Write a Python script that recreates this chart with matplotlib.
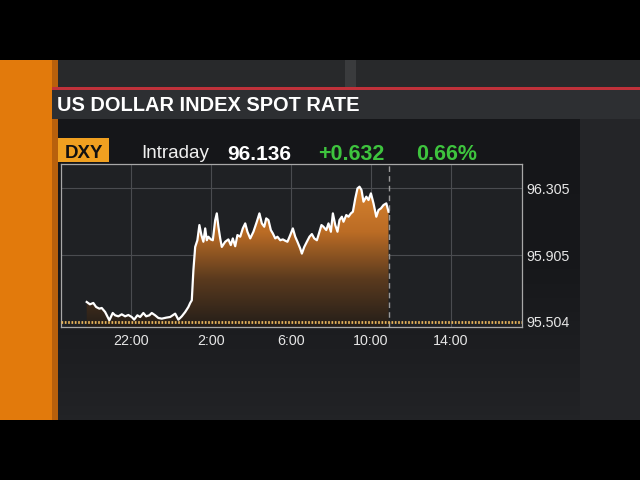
### DXY intraday chart, Bloomberg TV style ###
import numpy as np
import matplotlib
matplotlib.use("Agg")
import matplotlib.pyplot as plt
from matplotlib.patches import Rectangle
from matplotlib.colors import LinearSegmentedColormap

plt.rcParams['font.family'] = ['Liberation Sans', 'DejaVu Sans']

### data (hours since midnight of day 1, index level) ###
hours = [19.80, 19.96, 20.13, 20.27, 20.43, 20.55, 20.72, 20.93, 21.10, 21.22,
         21.38, 21.55, 21.72, 21.88, 22.05, 22.17, 22.33, 22.47, 22.63, 22.77,
         22.93, 23.05, 23.22, 23.38, 23.55, 23.77, 23.97, 24.22, 24.38, 24.55,
         24.72, 24.88, 24.97, 25.05, 25.13, 25.22, 25.33, 25.43, 25.53, 25.63,
         25.72, 25.80, 25.88, 26.00, 26.10, 26.22, 26.30, 26.38, 26.47, 26.55,
         26.72, 26.88, 27.00, 27.10, 27.22, 27.33, 27.47, 27.60, 27.72, 27.83,
         27.97, 28.13, 28.30, 28.43, 28.55, 28.67, 28.77, 28.88, 29.00, 29.10,
         29.22, 29.33, 29.47, 29.60, 29.72, 29.83, 29.97, 30.10, 30.22, 30.33,
         30.47, 30.55, 30.67, 30.80, 30.93, 31.05, 31.17, 31.30, 31.43, 31.53,
         31.63, 31.77, 31.88, 32.00, 32.10, 32.22, 32.33, 32.43, 32.55, 32.63,
         32.77, 32.88, 33.00, 33.10, 33.22, 33.33, 33.43, 33.53, 33.63, 33.77,
         33.88, 34.00, 34.13, 34.27, 34.38, 34.50, 34.63, 34.77, 34.88]
price = [95.624, 95.610, 95.618, 95.594, 95.584, 95.588, 95.564, 95.514, 95.558, 95.544,
         95.538, 95.550, 95.538, 95.546, 95.534, 95.518, 95.544, 95.534, 95.558, 95.538,
         95.544, 95.558, 95.544, 95.528, 95.524, 95.530, 95.534, 95.554, 95.518, 95.538,
         95.564, 95.594, 95.618, 95.634, 95.814, 95.954, 95.994, 96.085, 96.025, 95.985,
         96.065, 95.994, 96.015, 95.999, 95.994, 96.115, 96.155, 96.075, 96.005, 95.954,
         95.985, 95.999, 95.965, 96.005, 95.958, 96.025, 96.015, 96.065, 96.095, 96.045,
         96.005, 96.045, 96.105, 96.155, 96.095, 96.075, 96.125, 96.115, 96.055, 96.035,
         96.005, 96.015, 95.994, 95.999, 95.991, 95.985, 96.025, 96.065, 96.015, 95.985,
         95.944, 95.914, 95.954, 95.985, 96.015, 96.031, 96.005, 95.994, 96.045, 96.085,
         96.075, 96.055, 96.095, 96.045, 96.155, 96.085, 96.045, 96.115, 96.135, 96.105,
         96.145, 96.135, 96.155, 96.165, 96.245, 96.305, 96.315, 96.295, 96.225, 96.255,
         96.235, 96.275, 96.215, 96.135, 96.175, 96.185, 96.205, 96.215, 96.165]

x_ticks = [22, 26, 30, 34, 38]
x_labels = ['22:00', '2:00', '6:00', '10:00', '14:00']
y_ticks = [95.504, 95.905, 96.305]
y_labels = ['95.504', '95.905', '96.305']
prev_close = 95.504
now_hour = 34.92

ticker = 'DXY'
title = 'US DOLLAR INDEX SPOT RATE'
last = '96.136'
change = '+0.632'
pct = '0.66%'

W, H = 640, 480
fig = plt.figure(figsize=(W / 100, H / 100), dpi=100)
fig.patch.set_facecolor('black')

### background screen, drawn in pixel coords ###
bg = fig.add_axes([0, 0, 1, 1], zorder=-5)
bg.set_xlim(0, W)
bg.set_ylim(H, 0)
bg.axis('off')
def box(x0, y0, x1, y1, c, **kw):
    bg.add_patch(Rectangle((x0, y0), x1 - x0, y1 - y0, color=c, lw=0, **kw))
box(0, 0, W, 60, 'black')
box(0, 420, W, H, 'black')
box(57, 60, W, 420, '#28292b')
box(345, 60, 356, 87, '#3a3b3d')
box(0, 60, 52, 420, '#e27a0c')
box(52, 60, 58, 420, '#b8600c')
box(52, 87, W, 89.5, '#c0313a')
box(52, 89.5, W, 119, '#2d2f32')
# panel, a bit lighter towards the bottom
panel = np.linspace(0, 1, 64).reshape(-1, 1)
bg.imshow(panel, extent=[58, 580, 420, 119], aspect='auto', zorder=1,
          cmap=LinearSegmentedColormap.from_list('pan', ['#151619', '#17181b', '#222326']))
box(580, 119, W, 420, '#242528')

def px(x, y):
    return x / W, 1 - y / H

fig.text(*px(57, 111), title, color='white', fontsize=14.4, fontweight='bold')
box(58, 138, 109, 162, '#f0a020', zorder=2)
fig.text(*px(83.5, 158.5), ticker, color='#111111', fontsize=13.5,
         fontweight='bold', ha='center')
fig.text(*px(141, 158.5), 'Intraday', color='#f0f0f0', fontsize=13.6)
fig.text(*px(227, 159.5), last, color='white', fontsize=15, fontweight='bold')
fig.text(*px(318, 159.5), change, color='#3ec43e', fontsize=15.5, fontweight='bold')
fig.text(*px(416, 159.5), pct, color='#3ec43e', fontsize=15.5, fontweight='bold')

### main chart axes ###
left, right, top, bottom = 61, 522, 164, 327
ax = fig.add_axes([left / W, 1 - bottom / H, (right - left) / W, (bottom - top) / H])
ax.set_facecolor('#1f2124')
x0, x1 = 18.515, 41.55
y0, y1 = 95.474, 96.451
ax.set_xlim(x0, x1)
ax.set_ylim(y0, y1)

for t in x_ticks:
    ax.axvline(t, color='#4a4c50', lw=0.8, zorder=1)
for v in y_ticks[1:]:
    ax.axhline(v, color='#4a4c50', lw=0.8, zorder=1)

### orange gradient under the line ###
poly = ax.fill_between(hours, price, y0, facecolor='none', lw=0)
cmap = LinearSegmentedColormap.from_list('dxy', ['#241e19', '#5a3a1e', '#bb6c25', '#d98530'])
grad = np.linspace(0, 1, 256).reshape(-1, 1)
im = ax.imshow(grad, extent=[x0, x1, y0, 96.33], origin='lower', aspect='auto',
               cmap=cmap, zorder=2)
im.set_clip_path(poly.get_paths()[0], transform=ax.transData)

ax.plot(hours, price, color='white', lw=1.6, zorder=4, solid_joinstyle='round')
ax.axhline(prev_close, color='#e8b45a', lw=2.0, ls=(0, (0.6, 0.6)),
           dash_capstyle='butt', zorder=5)
ax.axvline(now_hour, color='#9a9a9a', lw=1.0, ls=(0, (4, 3)), zorder=3)

ax.set_xticks(x_ticks)
ax.set_xticklabels(x_labels)
ax.yaxis.tick_right()
ax.set_yticks(y_ticks)
ax.set_yticklabels(y_labels)
ax.tick_params(axis='both', length=0, colors='#e6e6e6', labelsize=10.3)
ax.tick_params(axis='x', pad=5)
ax.tick_params(axis='y', pad=3)
for s in ax.spines.values():
    s.set_color('#a8a8a8')
    s.set_linewidth(0.9)

fig.savefig('out.png', dpi=100, facecolor=fig.get_facecolor())
